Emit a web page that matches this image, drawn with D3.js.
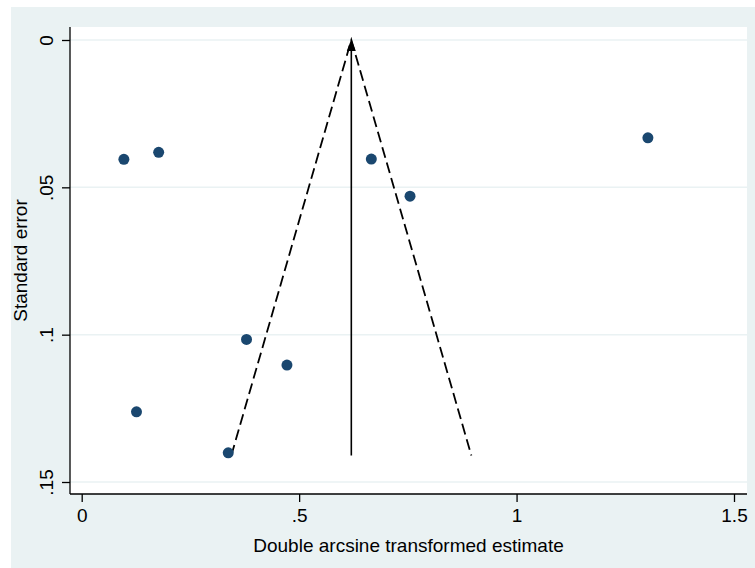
<!DOCTYPE html>
<html>
<head>
<meta charset="utf-8">
<script src="https://cdn.jsdelivr.net/npm/d3@7"></script>
<style>
  body { margin: 0; background: #fff; }
  text { font-family: "Liberation Sans", Arial, sans-serif; fill: #000; }
</style>
</head>
<body>
<svg width="755" height="568"></svg>
<script>
// study estimates (double arcsine) and their standard errors
var estimate = [0.097, 0.177, 0.666, 0.755, 1.302, 0.379, 0.472, 0.126, 0.337];
var stdErr   = [0.0405, 0.0381, 0.0404, 0.0530, 0.0332, 0.1016, 0.1103, 0.1262, 0.1401];

// pooled estimate and pseudo 95% limits at the funnel base
var pooled = 0.62;
var funnelBase = 0.141;
var funnelLow = 0.344;
var funnelHigh = 0.896;

var xTicks = [0, 0.5, 1, 1.5];
var xTickLabels = ["0", ".5", "1", "1.5"];
var yTicks = [0, 0.05, 0.1, 0.15];
var yTickLabels = ["0", ".05", ".1", ".15"];

var svg = d3.select("svg"),
    width = +svg.attr("width"),
    height = +svg.attr("height");

var plot = { left: 70, right: 747, top: 27, bottom: 494 };

var x = d3.scaleLinear().domain([0, 1.5]).range([81.7, 734]);
var y = d3.scaleLinear().domain([0, 0.15]).range([40, 482]);

// outer graph background
svg.append("rect")
    .attr("x", 11).attr("y", 7)
    .attr("width", width - 11).attr("height", height - 7)
    .attr("fill", "#eaf2f3");

// plot region
svg.append("rect")
    .attr("x", plot.left).attr("y", plot.top)
    .attr("width", plot.right - plot.left).attr("height", plot.bottom - plot.top)
    .attr("fill", "#fff");

// gridlines
svg.append("g").selectAll("line")
    .data(yTicks)
    .enter().append("line")
    .attr("x1", plot.left).attr("x2", plot.right)
    .attr("y1", function(d) { return y(d); })
    .attr("y2", function(d) { return y(d); })
    .attr("stroke", "#eaf2f3")
    .attr("stroke-width", 1.5);

// y axis
var yAxis = svg.append("g")
    .attr("transform", "translate(" + plot.left + ",0)")
    .call(d3.axisLeft(y).tickValues(yTicks)
        .tickFormat(function(d, i) { return yTickLabels[i]; })
        .tickSize(8).tickSizeOuter(0));
yAxis.select(".domain").attr("d", "M0," + plot.top + "V" + plot.bottom).attr("stroke", "#000").attr("stroke-width", 1.3);
yAxis.selectAll(".tick line").attr("stroke", "#000").attr("stroke-width", 1.3);
yAxis.selectAll(".tick text")
    .attr("x", null).attr("dy", null)
    .attr("transform", "translate(-17,0) rotate(-90)")
    .attr("text-anchor", "middle")
    .style("font-size", "19px");

// x axis
var xAxis = svg.append("g")
    .attr("transform", "translate(0," + plot.bottom + ")")
    .call(d3.axisBottom(x).tickValues(xTicks)
        .tickFormat(function(d, i) { return xTickLabels[i]; })
        .tickSize(8).tickSizeOuter(0));
xAxis.select(".domain").attr("d", "M" + plot.left + ",0H" + plot.right).attr("stroke", "#000").attr("stroke-width", 1.3);
xAxis.selectAll(".tick line").attr("stroke", "#000").attr("stroke-width", 1.3);
xAxis.selectAll(".tick text")
    .attr("y", 28).attr("dy", null)
    .style("font-size", "19px");

// axis titles
svg.append("text")
    .attr("x", (plot.left + plot.right) / 2)
    .attr("y", 552)
    .attr("text-anchor", "middle")
    .style("font-size", "19px")
    .text("Double arcsine transformed estimate");

svg.append("text")
    .attr("transform", "translate(27," + (plot.top + plot.bottom) / 2 + ") rotate(-90)")
    .attr("text-anchor", "middle")
    .style("font-size", "19px")
    .text("Standard error");

// pseudo confidence limits
var line = d3.line()
    .x(function(d) { return x(d[0]); })
    .y(function(d) { return y(d[1]); });

svg.append("path")
    .datum([[funnelLow, funnelBase], [pooled, 0], [funnelHigh, funnelBase]])
    .attr("d", line)
    .attr("fill", "none")
    .attr("stroke", "#000")
    .attr("stroke-width", 1.8)
    .attr("stroke-dasharray", "11,5");

// pooled estimate line with arrow
svg.append("path")
    .datum([[pooled, funnelBase], [pooled, 0.003]])
    .attr("d", line)
    .attr("stroke", "#000")
    .attr("stroke-width", 1.6);

svg.append("path")
    .attr("d", "M" + x(pooled) + "," + (y(0) - 1) +
        "L" + (x(pooled) - 4.5) + "," + (y(0) + 11) +
        "L" + (x(pooled) + 4.5) + "," + (y(0) + 11) + "Z")
    .attr("fill", "#000");

// study points
svg.append("g").selectAll("circle")
    .data(estimate)
    .enter().append("circle")
    .attr("cx", function(d) { return x(d); })
    .attr("cy", function(d, i) { return y(stdErr[i]); })
    .attr("r", 5.5)
    .attr("fill", "#1a476f");
</script>
</body>
</html>
